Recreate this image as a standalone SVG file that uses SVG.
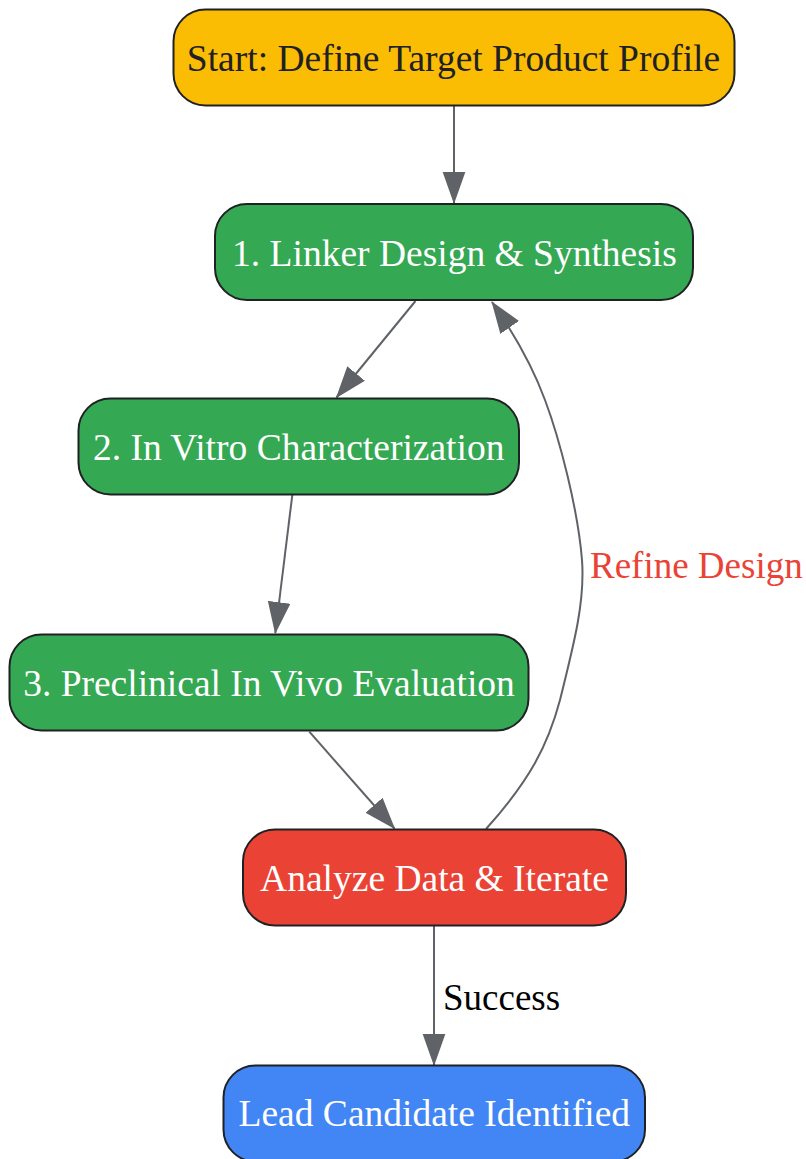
<svg xmlns="http://www.w3.org/2000/svg" width="806" height="1159" viewBox="0 0 806 1159">
<style>
.node rect{stroke:#202124;stroke-width:2}
.node text{font-family:"Liberation Serif","Times New Roman",serif;font-size:37.5px;text-anchor:middle;fill:#ffffff}
.edge{fill:none;stroke:#5f6368;stroke-width:2}
.elabel{font-family:"Liberation Serif","Times New Roman",serif;font-size:37px}
</style>
<defs>
<marker id="arrow" markerUnits="userSpaceOnUse" markerWidth="32" markerHeight="24" viewBox="0 0 31 22" refX="30" refY="11" orient="auto">
<path d="M0,0 L31,11 L0,22 z" fill="#5f6368"/>
</marker>
</defs>
<rect width="806" height="1159" fill="#ffffff"/>
<g id="connectors">
<path class="edge" d="M454,106 L454,203" marker-end="url(#arrow)"/>
<path class="edge" d="M415.5,301 L336.5,397.5" marker-end="url(#arrow)"/>
<path class="edge" d="M292.3,495 L275.3,633" marker-end="url(#arrow)"/>
<path class="edge" d="M309.3,731.7 L394.5,828.5" marker-end="url(#arrow)"/>
<path class="edge" d="M434,926 L434,1065" marker-end="url(#arrow)"/>
<path class="edge" d="M486,829 C530,780 548,745 560,700 C575,640 585,600 582,560 C578,510 560,440 545,400 C532,365 515,335 492,302" marker-end="url(#arrow)"/>
<text class="elabel" x="590" y="578" fill="#ea4335">Refine Design</text>
<text class="elabel" x="443" y="1010" fill="#000000">Success</text>
</g>
<g id="start" class="node">
<rect x="173.5" y="9.5" width="561" height="96" rx="32" ry="32" fill="#fbbc04"/>
<text x="453.5" y="71" style="fill:#202124">Start: Define Target Product Profile</text>
</g>
<g id="n1" class="node">
<rect x="215" y="204" width="478" height="96" rx="32" ry="32" fill="#34a853"/>
<text x="454.5" y="265.5">1. Linker Design &amp; Synthesis</text>
</g>
<g id="n2" class="node">
<rect x="78.5" y="398.5" width="440.5" height="96" rx="32" ry="32" fill="#34a853"/>
<text x="298.7" y="460">2. In Vitro Characterization</text>
</g>
<g id="n3" class="node">
<rect x="9.5" y="634.5" width="519" height="96" rx="32" ry="32" fill="#34a853"/>
<text x="269" y="696">3. Preclinical In Vivo Evaluation</text>
</g>
<g id="analyze" class="node">
<rect x="243" y="829.5" width="383" height="96" rx="32" ry="32" fill="#ea4335"/>
<text x="434.5" y="891">Analyze Data &amp; Iterate</text>
</g>
<g id="lead" class="node">
<rect x="223.5" y="1065.5" width="421.5" height="96" rx="32" ry="32" fill="#4285f4"/>
<text x="434.3" y="1126">Lead Candidate Identified</text>
</g>
</svg>
